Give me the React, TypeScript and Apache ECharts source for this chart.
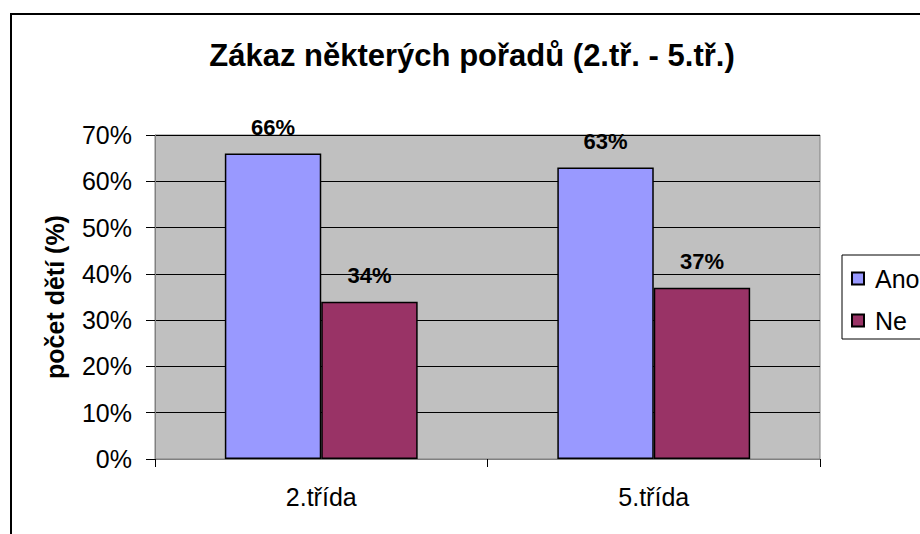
import React, { useEffect, useRef } from "react";
import * as echarts from "echarts";

const categories = ["2.třída", "5.třída"];
const seriesNames = ["Ano", "Ne"];
const anoValues = [0.66, 0.63];
const neValues = [0.34, 0.37];
const yTicks = [0, 0.1, 0.2, 0.3, 0.4, 0.5, 0.6, 0.7];
const titleText = "Zákaz některých pořadů (2.tř. - 5.tř.)";
const yAxisTitle = "počet dětí (%)";

const FONT = "'Liberation Sans', Arial, sans-serif";
const pct = (v: number) => Math.round(v * 100) + "%";

export default function App() {
  const ref = useRef<HTMLDivElement>(null);
  useEffect(() => {
    if (!ref.current) return;
    const chart = echarts.init(ref.current, undefined, { renderer: "svg" });
    const labelCfg = {
      show: true,
      position: "top",
      distance: 15,
      formatter: (p: any) => pct(p.value),
      fontFamily: FONT,
      fontSize: 22,
      fontWeight: "bold",
      color: "#000",
    };
    chart.setOption({
      animation: false,
      backgroundColor: "#fff",
      textStyle: { fontFamily: FONT },
      title: {
        text: titleText,
        left: 467,
        textAlign: "center",
        top: 35,
        textStyle: { fontFamily: FONT, fontSize: 31, fontWeight: "bold", color: "#000" },
      },
      graphic: [
        {
          type: "rect",
          shape: { x: 11, y: 14, width: 1000, height: 700 },
          style: { fill: "none", stroke: "#000", lineWidth: 2 },
          silent: true,
          z: -1,
        },
      ],
      legend: {
        data: seriesNames,
        orient: "vertical",
        left: 842,
        top: 255,
        padding: [11, 40, 6, 9],
        itemGap: 17,
        itemWidth: 12,
        itemHeight: 12,
        icon: "rect",
        borderColor: "#000",
        borderWidth: 1,
        textStyle: { fontFamily: FONT, fontSize: 25, color: "#000", padding: [0, 0, 0, 6] },
      },
      grid: {
        left: 155,
        top: 135,
        width: 665,
        height: 324,
        show: true,
        backgroundColor: "#C0C0C0",
        borderColor: "#808080",
        borderWidth: 1,
      },
      xAxis: {
        type: "category",
        data: categories,
        axisLine: { lineStyle: { color: "#808080", width: 1 } },
        axisTick: { show: true, length: 8, lineStyle: { color: "#000" } },
        axisLabel: { fontFamily: FONT, fontSize: 25, color: "#000", margin: 25 },
      },
      yAxis: {
        type: "value",
        min: 0,
        max: yTicks[yTicks.length - 1],
        interval: 0.1,
        name: yAxisTitle,
        nameLocation: "middle",
        nameGap: 88,
        nameTextStyle: { fontFamily: FONT, fontSize: 25, fontWeight: "bold", color: "#000" },
        axisLine: { show: true, lineStyle: { color: "#808080", width: 1 } },
        axisTick: { show: true, length: 9, lineStyle: { color: "#000" } },
        axisLabel: {
          fontFamily: FONT,
          fontSize: 25,
          color: "#000",
          margin: 23,
          formatter: (v: number) => pct(v),
        },
        splitLine: { show: true, lineStyle: { color: "#000", width: 1 } },
      },
      series: [
        {
          name: seriesNames[0],
          type: "bar",
          data: anoValues,
          barGap: "0%",
          barCategoryGap: "42%",
          itemStyle: { color: "#9999FF", borderColor: "#000", borderWidth: 1.5 },
          label: labelCfg,
        },
        {
          name: seriesNames[1],
          type: "bar",
          data: neValues,
          itemStyle: { color: "#993366", borderColor: "#000", borderWidth: 1.5 },
          label: labelCfg,
        },
      ],
    });
    return () => chart.dispose();
  }, []);
  return (
    <div
      ref={ref}
      style={{ position: "fixed", left: 0, top: 0, width: 920, height: 534 }}
    />
  );
}
